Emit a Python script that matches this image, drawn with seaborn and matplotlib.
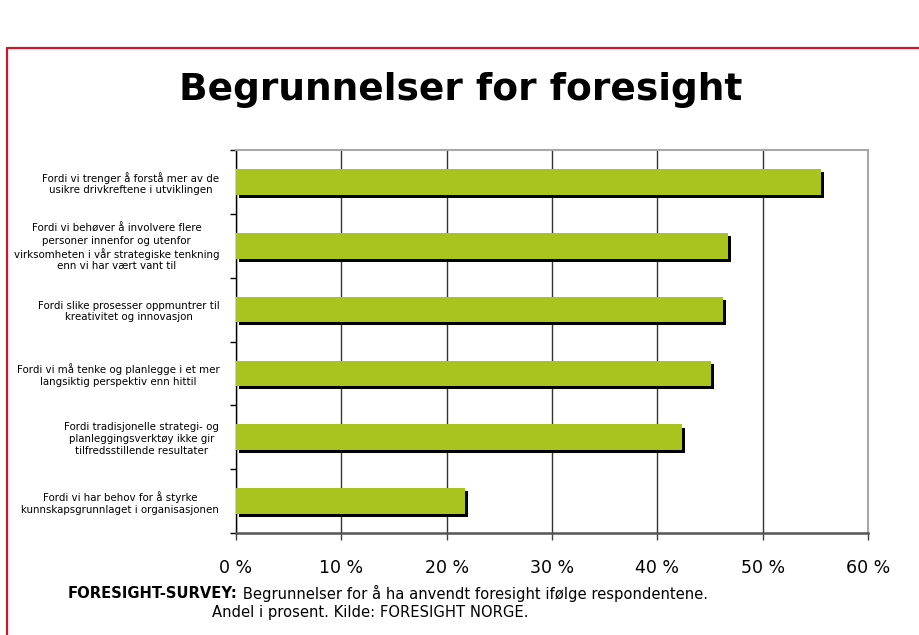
import matplotlib
matplotlib.use("Agg")
import matplotlib.pyplot as plt
import matplotlib.patheffects as pe
from matplotlib.lines import Line2D
from matplotlib.ticker import FixedLocator
import seaborn as sns
import pandas as pd

categories = [
    "Fordi vi trenger å forstå mer av de\nusikre drivkreftene i utviklingen",
    "Fordi vi behøver å involvere flere\npersoner innenfor og utenfor\nvirksomheten i vår strategiske tenkning\nenn vi har vært vant til",
    "Fordi slike prosesser oppmuntrer til\nkreativitet og innovasjon",
    "Fordi vi må tenke og planlegge i et mer\nlangsiktig perspektiv enn hittil",
    "Fordi tradisjonelle strategi- og\nplanleggingsverktøy ikke gir\ntilfredsstillende resultater",
    "Fordi vi har behov for å styrke\nkunnskapsgrunnlaget i organisasjonen",
]
values = [55.5, 46.7, 46.2, 45.1, 42.3, 21.7]
xticks = [0, 10, 20, 30, 40, 50, 60]
xticklabels = ["0 %", "10 %", "20 %", "30 %", "40 %", "50 %", "60 %"]
title = "Begrunnelser for foresight"
caption_bold = "FORESIGHT-SURVEY:"
caption_rest = " Begrunnelser for å ha anvendt foresight ifølge respondentene."
caption_line2 = "Andel i prosent. Kilde: FORESIGHT NORGE."

sns.set_theme(style="white")
plt.rcParams["font.family"] = ["DejaVu Sans"]
plt.rcParams["text.color"] = "black"
plt.rcParams["xtick.color"] = "black"
plt.rcParams["ytick.color"] = "black"

df = pd.DataFrame({"kategori": categories, "andel": values})

fig = plt.figure(figsize=(9.2, 6.35), dpi=100)
ax = fig.add_axes([236 / 920, 102 / 635, 632 / 920, 383 / 635])

sns.barplot(data=df, y="kategori", x="andel", order=categories, color="#a9c41f",
            saturation=1, width=0.4, ax=ax, zorder=3)
for p in ax.patches:
    p.set_path_effects([pe.SimplePatchShadow(offset=(2.2, -2.2), shadow_rgbFace="black", alpha=1.0),
                        pe.Normal()])
    p.set_edgecolor("none")

ax.set_xlim(0, 60)
ax.set_ylim(len(categories) - 0.5, -0.5)
ax.set_xticks(xticks)
ax.set_xticklabels(xticklabels, fontsize=12.5)
ax.set_xlabel("")
ax.set_ylabel("")

ax.grid(axis="x", color="#333333", linewidth=1.0, zorder=0)
ax.grid(axis="y", visible=False)
ax.set_axisbelow(True)

ax.tick_params(axis="y", which="major", length=0, pad=12, labelsize=7.4, labelcolor="black")
for lbl in ax.get_yticklabels():
    lbl.set_multialignment("center")
ax.yaxis.set_minor_locator(FixedLocator([i - 0.5 for i in range(len(categories) + 1)]))
ax.tick_params(axis="y", which="minor", left=True, length=4, width=1, color="black", direction="out")
ax.tick_params(axis="x", which="major", bottom=True, length=5, width=1, color="#404040",
               direction="out", pad=14, labelcolor="black")

ax.spines["left"].set_color("black")
ax.spines["left"].set_linewidth(1.0)
ax.spines["bottom"].set_color("#555555")
ax.spines["bottom"].set_linewidth(1.8)
ax.spines["top"].set_color("#a8a8a8")
ax.spines["top"].set_linewidth(1.5)
ax.spines["right"].set_color("#a8a8a8")
ax.spines["right"].set_linewidth(1.5)

fig.text(461 / 920, 1 - 90 / 635, title, ha="center", va="center", fontsize=27,
         fontweight="bold", color="black")

t1 = fig.text(68 / 920, 1 - 593 / 635, caption_bold, ha="left", va="center", fontsize=10.6,
              fontweight="bold", color="black")
fig.canvas.draw()
bb = t1.get_window_extent()
fig.text(bb.x1 / 920, 1 - 593 / 635, caption_rest, ha="left", va="center", fontsize=10.6,
         color="black")
fig.text(212 / 920, 1 - 612 / 635, caption_line2, ha="left", va="center", fontsize=10.6,
         color="black")

red = "#d0142c"
fig.add_artist(Line2D([7 / 920, 1.0], [1 - 48 / 635, 1 - 48 / 635], transform=fig.transFigure,
                      color=red, linewidth=1.6))
fig.add_artist(Line2D([7 / 920, 7 / 920], [1 - 48 / 635, 0.0], transform=fig.transFigure,
                      color=red, linewidth=1.6))

fig.savefig("out.png", dpi=100)
